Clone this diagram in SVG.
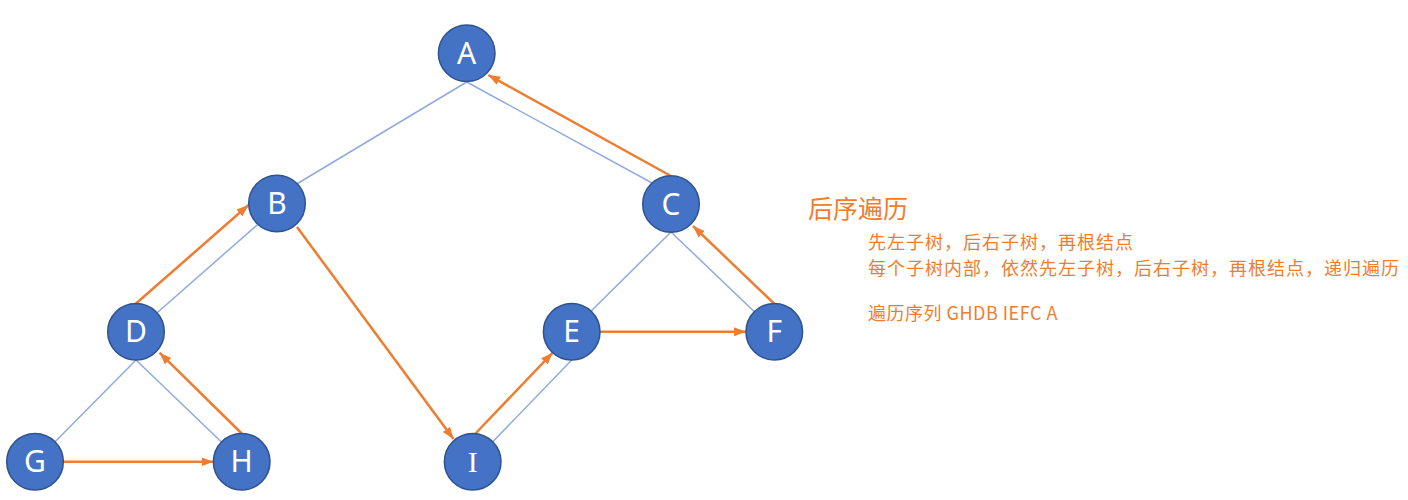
<svg xmlns="http://www.w3.org/2000/svg" width="1408" height="500" viewBox="0 0 1408 500">
<style>
.edge{stroke:#8FAADC;stroke-width:1.5;fill:none}
.arrow{stroke:#ED7D31;stroke-width:2.5;fill:none;marker-end:url(#ah)}
.node circle{fill:#4472C4;stroke:#2F528F;stroke-width:1.5}
.node text{fill:#FFFFFF;font-family:"Noto Sans","Open Sans","DejaVu Sans",sans-serif;font-size:30px;text-anchor:middle}
.txt{fill:#ED7D31;font-family:"Noto Sans CJK SC","Noto Sans",sans-serif}
.body{font-size:18px;letter-spacing:1px}
</style>
<defs>
<marker id="ah" markerUnits="userSpaceOnUse" markerWidth="13" markerHeight="10" refX="12" refY="4.5" orient="auto">
<path d="M0,0 L12,4.5 L0,9 z" fill="#ED7D31"/>
</marker>
</defs>
<rect width="1408" height="500" fill="#FFFFFF"/>
<g id="connectors">
<line class="edge" x1="466.7" y1="82" x2="280" y2="194"/>
<line class="edge" x1="466.7" y1="82" x2="665" y2="190"/>
<line class="edge" x1="265" y1="218" x2="150" y2="319"/>
<line class="edge" x1="136" y1="360" x2="40" y2="457"/>
<line class="edge" x1="136" y1="360" x2="235" y2="455"/>
<line class="edge" x1="671" y1="232" x2="580" y2="322"/>
<line class="edge" x1="671" y1="232" x2="765" y2="322"/>
<line class="edge" x1="571.7" y1="360" x2="480" y2="455"/>
<line class="arrow" x1="670" y1="175.5" x2="488.3" y2="75"/>
<line class="arrow" x1="774" y1="303.5" x2="693" y2="226"/>
<line class="arrow" x1="297" y1="227" x2="453.5" y2="439"/>
<line class="arrow" x1="136" y1="303.5" x2="248.5" y2="205"/>
<line class="arrow" x1="241.7" y1="433.5" x2="159.5" y2="352.7"/>
<line class="arrow" x1="63.5" y1="461.7" x2="213.5" y2="461.7"/>
<line class="arrow" x1="475" y1="434" x2="552.7" y2="352.7"/>
<line class="arrow" x1="600" y1="331.7" x2="746" y2="331.7"/>
</g>
<g id="node-A" class="node"><circle cx="466.7" cy="53.3" r="28.3"/><text x="466.7" y="64">A</text></g>
<g id="node-B" class="node"><circle cx="277" cy="203.5" r="28.3"/><text x="277" y="214.2">B</text></g>
<g id="node-C" class="node"><circle cx="671" cy="204" r="28.3"/><text x="671" y="214.7">C</text></g>
<g id="node-D" class="node"><circle cx="136" cy="331.7" r="28.3"/><text x="136" y="342.4">D</text></g>
<g id="node-E" class="node"><circle cx="571.7" cy="331.7" r="28.3"/><text x="571.7" y="342.4">E</text></g>
<g id="node-F" class="node"><circle cx="774.3" cy="331.7" r="28.3"/><text x="774.3" y="342.4">F</text></g>
<g id="node-G" class="node"><circle cx="35" cy="461.7" r="28.3"/><text x="35" y="472.4">G</text></g>
<g id="node-H" class="node"><circle cx="241.7" cy="461.7" r="28.3"/><text x="241.7" y="472.4">H</text></g>
<g id="node-I" class="node"><circle cx="472.7" cy="461.7" r="28.3"/><text x="472.7" y="472.4" style="font-family:'Liberation Serif',serif;font-weight:normal">I</text></g>
<g id="notes">
<text class="txt" x="808" y="218" font-size="25">后序遍历</text>
<text class="txt body" x="868" y="249">先左子树，后右子树，再根结点</text>
<text class="txt body" x="868" y="275">每个子树内部，依然先左子树，后右子树，再根结点，递归遍历</text>
<text class="txt body" x="868" y="320" style="letter-spacing:0.5px">遍历序列 GHDB IEFC A</text>
</g>
</svg>
